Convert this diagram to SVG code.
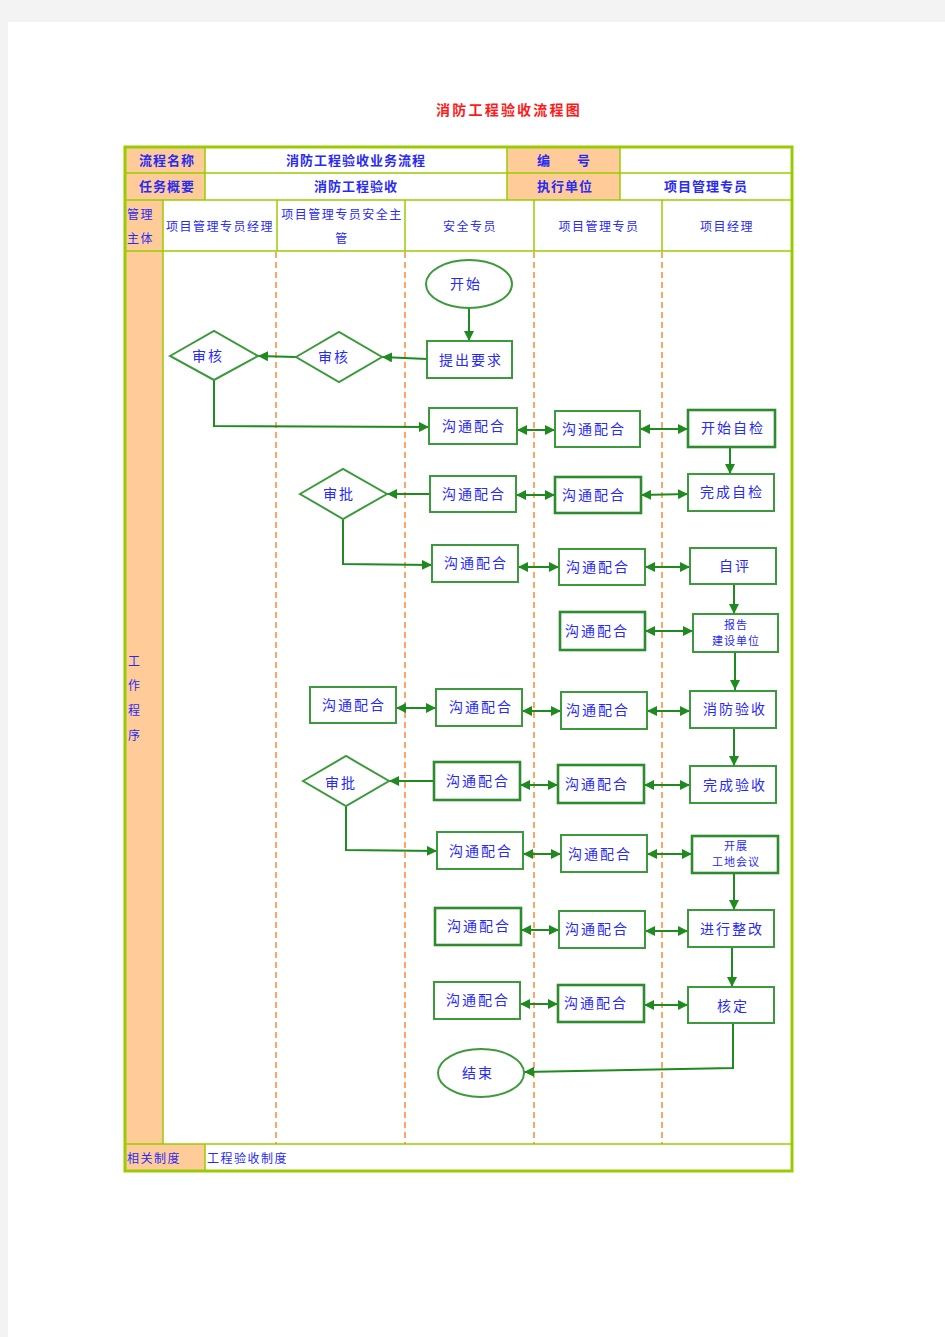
<svg xmlns="http://www.w3.org/2000/svg" width="945" height="1337" viewBox="0 0 945 1337">
<defs>
<style>
.t{font-family:"Liberation Serif","Noto Sans CJK SC",serif;fill:#2a2af5}
.h{font-size:13px;font-weight:bold;letter-spacing:1px}
.h2{font-size:12px;letter-spacing:1.5px}
.n{font-size:14px;letter-spacing:2px;text-anchor:middle}
.s{font-size:11px;letter-spacing:1px;text-anchor:middle}
.box{fill:#fff;stroke:#3c9a3c;stroke-width:2}
.bold{stroke-width:2.6;stroke:#2e8b2e}
.peach{fill:#ffcc99}
.grid{stroke:#99cc00;stroke-width:1.5;fill:none}
.dash{stroke:#ff7f27;stroke-width:1.4;stroke-dasharray:6,4}
.c{fill:none;stroke:#1f8a1f;stroke-width:2}
.a{marker-end:url(#ah)}
.d{marker-start:url(#ah);marker-end:url(#ah)}
</style>
<marker id="ah" viewBox="0 0 10 10" refX="10" refY="5" markerWidth="5" markerHeight="5" orient="auto-start-reverse" markerUnits="strokeWidth">
<path d="M0,0 L10,5 L0,10 z" fill="#1f8a1f"/>
</marker>
</defs>
<rect width="945" height="1337" fill="#f3f3f3"/>
<rect x="8" y="22" width="937" height="1315" fill="#fff"/>
<text x="509" y="115" text-anchor="middle" style="font-family:'Liberation Serif','Noto Sans CJK SC',serif;font-size:14px;font-weight:bold;letter-spacing:2.2px;fill:#ff1a1a">消防工程验收流程图</text>

<g id="table">
<rect x="125" y="147" width="80" height="53" class="peach"/>
<rect x="507" y="147" width="113" height="53" class="peach"/>
<rect x="125" y="200" width="38" height="944" class="peach"/>
<rect x="125" y="1144" width="80" height="27" class="peach"/>
<rect x="125" y="147" width="667" height="1024" fill="none" stroke="#99cc00" stroke-width="3"/>
<line x1="125" y1="173" x2="792" y2="173" class="grid"/>
<line x1="125" y1="200" x2="792" y2="200" class="grid"/>
<line x1="125" y1="251" x2="792" y2="251" class="grid"/>
<line x1="125" y1="1144" x2="792" y2="1144" class="grid" stroke-width="2.5"/>
<line x1="205" y1="147" x2="205" y2="200" class="grid"/>
<line x1="507" y1="147" x2="507" y2="200" class="grid"/>
<line x1="620" y1="147" x2="620" y2="200" class="grid"/>
<line x1="163" y1="200" x2="163" y2="1144" class="grid"/>
<line x1="277" y1="200" x2="277" y2="251" class="grid"/>
<line x1="405" y1="200" x2="405" y2="251" class="grid"/>
<line x1="534" y1="200" x2="534" y2="251" class="grid"/>
<line x1="662" y1="200" x2="662" y2="251" class="grid"/>
<line x1="205" y1="1144" x2="205" y2="1171" class="grid"/>
<line x1="276" y1="252" x2="276" y2="1144" class="dash"/>
<line x1="405" y1="252" x2="405" y2="1144" class="dash"/>
<line x1="534" y1="252" x2="534" y2="1144" class="dash"/>
<line x1="662" y1="252" x2="662" y2="1144" class="dash"/>
<text class="t h" x="139" y="165">流程名称</text>
<text class="t h" x="356" y="165" text-anchor="middle">消防工程验收业务流程</text>
<text class="t h" x="537" y="165">编</text>
<text class="t h" x="577" y="165">号</text>
<text class="t h" x="139" y="191">任务概要</text>
<text class="t h" x="356" y="191" text-anchor="middle">消防工程验收</text>
<text class="t h" x="537" y="191">执行单位</text>
<text class="t h" x="706" y="191" text-anchor="middle">项目管理专员</text>
<text class="t h2" x="127" y="219">管理</text>
<text class="t h2" x="127" y="243">主体</text>
<text class="t h2" x="220" y="231" text-anchor="middle">项目管理专员经理</text>
<text class="t h2" x="342" y="219" text-anchor="middle">项目管理专员安全主</text>
<text class="t h2" x="342" y="243" text-anchor="middle">管</text>
<text class="t h2" x="470" y="231" text-anchor="middle">安全专员</text>
<text class="t h2" x="599" y="231" text-anchor="middle">项目管理专员</text>
<text class="t h2" x="727" y="231" text-anchor="middle">项目经理</text>
<text class="t h2" x="128" y="666">工</text>
<text class="t h2" x="128" y="690">作</text>
<text class="t h2" x="128" y="715">程</text>
<text class="t h2" x="128" y="740">序</text>
<text class="t h2" x="127" y="1163">相关制度</text>
<text class="t h2" x="207" y="1163">工程验收制度</text>
</g>

<g id="connectors">
<line x1="469" y1="308" x2="469" y2="341" class="c a"/>
<line x1="427" y1="359" x2="382" y2="357" class="c a"/>
<line x1="296" y1="357" x2="258" y2="356" class="c a"/>
<polyline points="214,380 214,426 429,427" class="c a"/>
<line x1="517" y1="430" x2="555" y2="430" class="c d"/>
<line x1="640" y1="429" x2="688" y2="429" class="c d"/>
<line x1="730" y1="447" x2="730" y2="474" class="c a"/>
<line x1="430" y1="494" x2="387" y2="494" class="c a"/>
<line x1="516" y1="495" x2="555" y2="495" class="c d"/>
<line x1="641" y1="495" x2="688" y2="494" class="c d"/>
<polyline points="343,519 343,564 432,565" class="c a"/>
<line x1="518" y1="567" x2="559" y2="567" class="c d"/>
<line x1="645" y1="567" x2="690" y2="567" class="c d"/>
<line x1="734" y1="584" x2="734" y2="614" class="c a"/>
<line x1="645" y1="631" x2="693" y2="631" class="c d"/>
<line x1="735" y1="652" x2="735" y2="690" class="c a"/>
<line x1="396" y1="708" x2="436" y2="708" class="c d"/>
<line x1="522" y1="711" x2="561" y2="711" class="c d"/>
<line x1="647" y1="711" x2="690" y2="711" class="c d"/>
<line x1="734" y1="728" x2="734" y2="766" class="c a"/>
<line x1="434" y1="781" x2="389" y2="781" class="c a"/>
<line x1="520" y1="785" x2="558" y2="785" class="c d"/>
<line x1="644" y1="785" x2="690" y2="785" class="c d"/>
<polyline points="346,806 346,850 437,851" class="c a"/>
<line x1="523" y1="854" x2="561" y2="854" class="c d"/>
<line x1="647" y1="854" x2="692" y2="854" class="c d"/>
<line x1="734" y1="873" x2="734" y2="910" class="c a"/>
<line x1="521" y1="930" x2="559" y2="930" class="c d"/>
<line x1="645" y1="931" x2="688" y2="931" class="c d"/>
<line x1="732" y1="947" x2="732" y2="987" class="c a"/>
<line x1="520" y1="1004" x2="558" y2="1004" class="c d"/>
<line x1="644" y1="1005" x2="688" y2="1005" class="c d"/>
<polyline points="733,1023 733,1068 524,1072" class="c a"/>
</g>

<g id="start"><ellipse cx="469" cy="284" rx="43" ry="24" class="box"/><text class="t n" x="466" y="289">开始</text></g>
<g id="tichu"><rect x="427" y="341" width="85" height="37" class="box"/><text class="t n" x="471" y="365">提出要求</text></g>
<g id="shenhe2"><polygon points="296,357 339,332 382,357 339,382" class="box"/><text class="t n" x="334" y="362">审核</text></g>
<g id="shenhe1"><polygon points="170,356 214,331 258,356 214,380" class="box"/><text class="t n" x="208" y="361">审核</text></g>

<g id="a1"><rect x="429" y="408" width="88" height="36" class="box"/><text class="t n" x="474" y="431">沟通配合</text></g>
<g id="a2"><rect x="555" y="411" width="85" height="36" class="box"/><text class="t n" x="594" y="434">沟通配合</text></g>
<g id="a3"><rect x="688" y="410" width="87" height="37" class="box bold"/><text class="t n" x="733" y="433">开始自检</text></g>

<g id="b0"><polygon points="300,494 343,469 387,494 343,519" class="box"/><text class="t n" x="339" y="499">审批</text></g>
<g id="b1"><rect x="430" y="476" width="86" height="36" class="box"/><text class="t n" x="474" y="499">沟通配合</text></g>
<g id="b2"><rect x="555" y="477" width="86" height="36" class="box bold"/><text class="t n" x="594" y="500">沟通配合</text></g>
<g id="b3"><rect x="688" y="474" width="86" height="37" class="box"/><text class="t n" x="732" y="497">完成自检</text></g>

<g id="c1"><rect x="432" y="545" width="86" height="37" class="box"/><text class="t n" x="476" y="568">沟通配合</text></g>
<g id="c2"><rect x="559" y="549" width="86" height="36" class="box"/><text class="t n" x="598" y="572">沟通配合</text></g>
<g id="c3"><rect x="690" y="548" width="86" height="36" class="box"/><text class="t n" x="735" y="571">自评</text></g>

<g id="d2"><rect x="560" y="612" width="85" height="38" class="box bold"/><text class="t n" x="597" y="636">沟通配合</text></g>
<g id="d3"><rect x="693" y="614" width="85" height="38" class="box"/><text class="t s" x="736" y="629">报告</text><text class="t s" x="736" y="645">建设单位</text></g>

<g id="e0"><rect x="310" y="687" width="86" height="36" class="box"/><text class="t n" x="354" y="710">沟通配合</text></g>
<g id="e1"><rect x="436" y="689" width="86" height="37" class="box"/><text class="t n" x="481" y="712">沟通配合</text></g>
<g id="e2"><rect x="561" y="692" width="86" height="37" class="box"/><text class="t n" x="598" y="715">沟通配合</text></g>
<g id="e3"><rect x="690" y="691" width="86" height="37" class="box"/><text class="t n" x="735" y="714">消防验收</text></g>

<g id="f0"><polygon points="303,781 346,756 389,781 346,806" class="box"/><text class="t n" x="341" y="788">审批</text></g>
<g id="f1"><rect x="434" y="762" width="86" height="38" class="box bold"/><text class="t n" x="478" y="786">沟通配合</text></g>
<g id="f2"><rect x="558" y="765" width="86" height="38" class="box bold"/><text class="t n" x="597" y="789">沟通配合</text></g>
<g id="f3"><rect x="690" y="766" width="86" height="37" class="box"/><text class="t n" x="735" y="790">完成验收</text></g>

<g id="g1"><rect x="437" y="832" width="86" height="37" class="box"/><text class="t n" x="481" y="856">沟通配合</text></g>
<g id="g2"><rect x="561" y="835" width="86" height="37" class="box"/><text class="t n" x="600" y="859">沟通配合</text></g>
<g id="g3"><rect x="692" y="836" width="86" height="37" class="box bold"/><text class="t s" x="736" y="850">开展</text><text class="t s" x="736" y="866">工地会议</text></g>

<g id="h1"><rect x="435" y="908" width="86" height="37" class="box bold"/><text class="t n" x="479" y="931">沟通配合</text></g>
<g id="h2"><rect x="559" y="911" width="86" height="37" class="box"/><text class="t n" x="597" y="934">沟通配合</text></g>
<g id="h3"><rect x="688" y="910" width="86" height="37" class="box"/><text class="t n" x="732" y="934">进行整改</text></g>

<g id="i1"><rect x="434" y="982" width="86" height="37" class="box"/><text class="t n" x="478" y="1005">沟通配合</text></g>
<g id="i2"><rect x="558" y="985" width="86" height="37" class="box bold"/><text class="t n" x="596" y="1008">沟通配合</text></g>
<g id="i3"><rect x="688" y="987" width="86" height="36" class="box"/><text class="t n" x="733" y="1011">核定</text></g>

<g id="end"><ellipse cx="481" cy="1073" rx="43" ry="24" class="box"/><text class="t n" x="478" y="1078">结束</text></g>
</svg>
